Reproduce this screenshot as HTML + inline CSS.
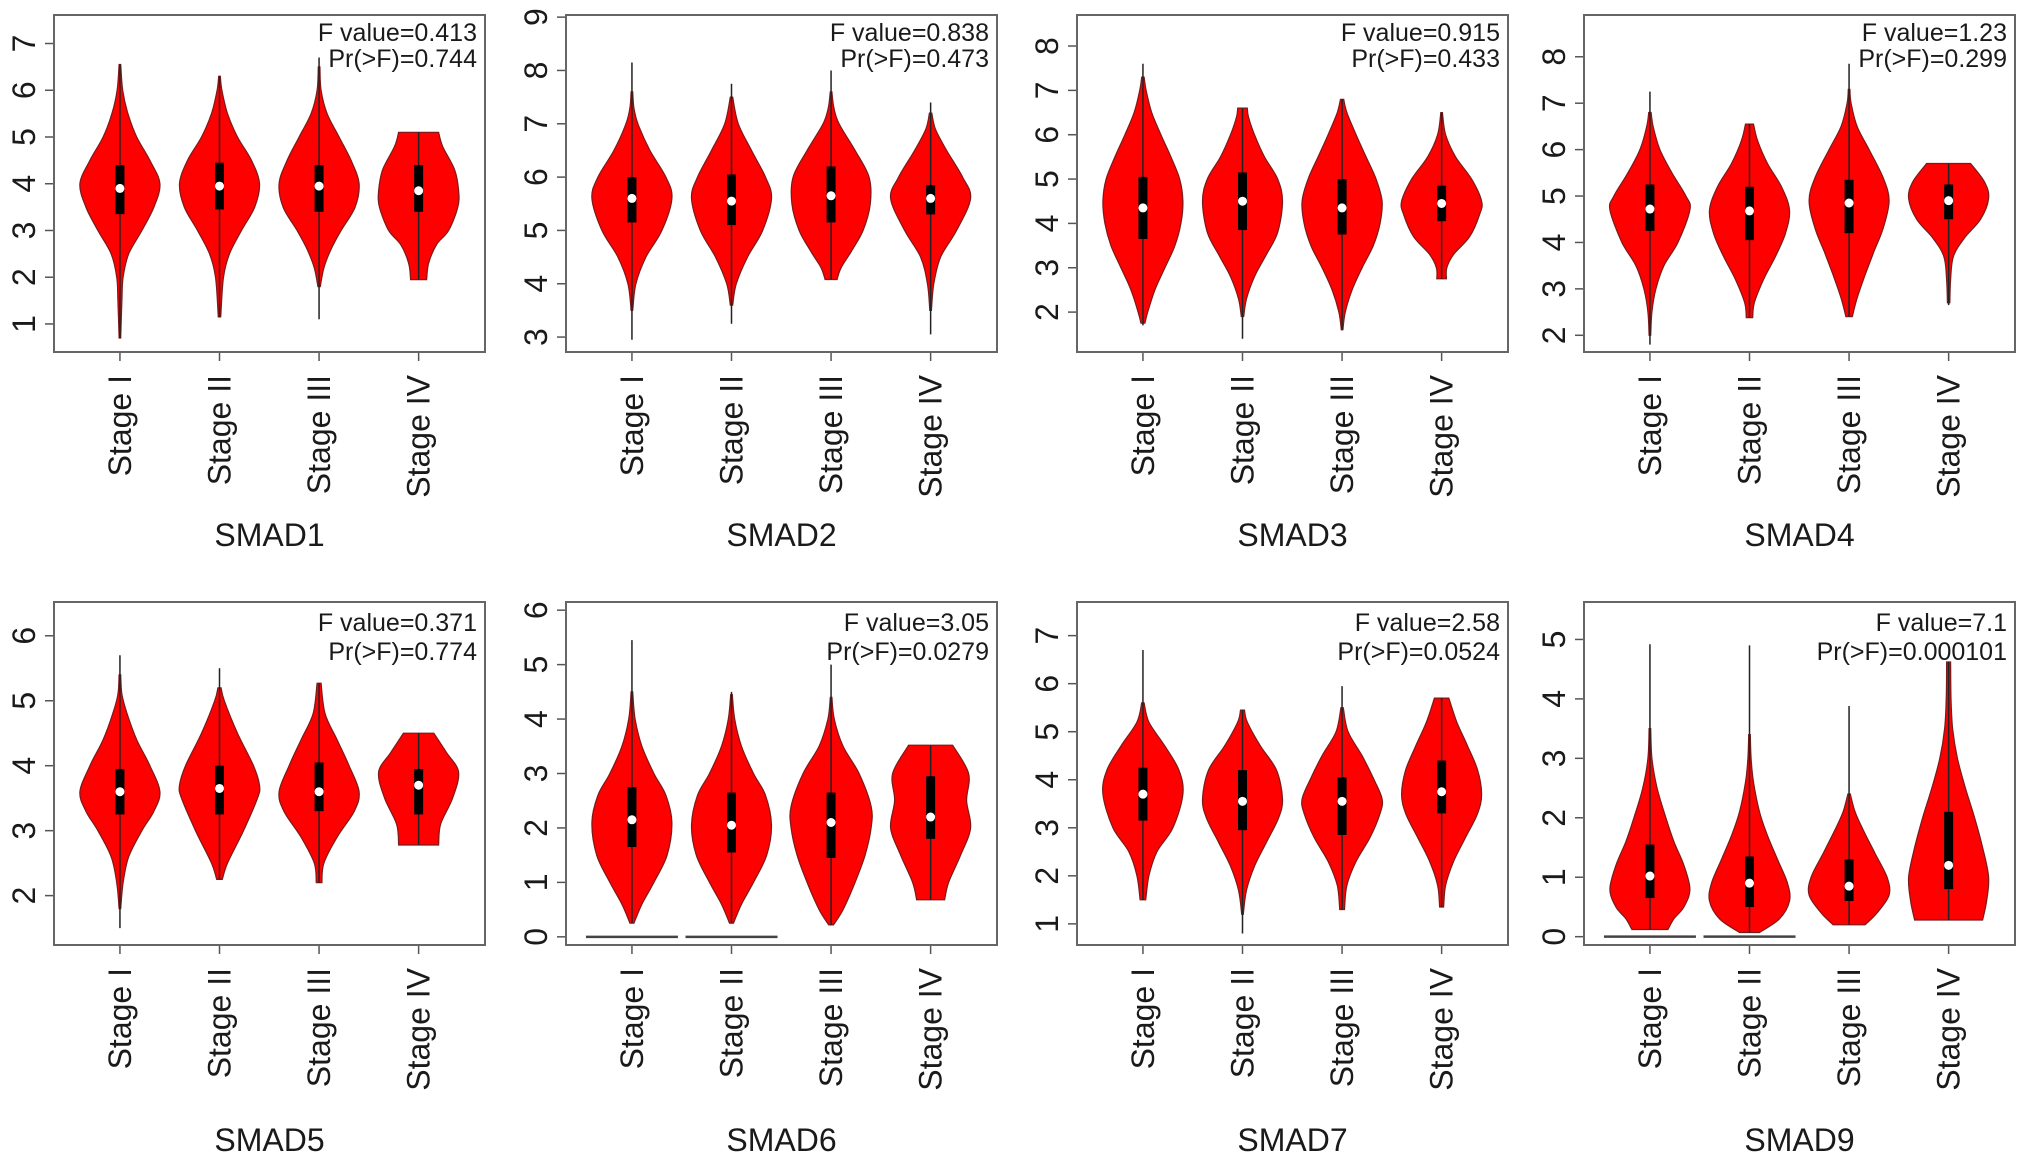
<!DOCTYPE html>
<html><head><meta charset="utf-8"><style>
html,body{margin:0;padding:0;background:#fff;}
svg{display:block;}
text{font-family:"Liberation Sans",Arial,sans-serif;fill:#1a1a1a;}
</style></head><body>
<svg id="chart" width="2032" height="1165" viewBox="0 0 2032 1165" xmlns="http://www.w3.org/2000/svg"></svg>
<script>
const genes = ["SMAD1","SMAD2","SMAD3","SMAD4","SMAD5","SMAD6","SMAD7","SMAD9"];
const stages = ["Stage I","Stage II","Stage III","Stage IV"];
const fValues = ["0.413","0.838","0.915","1.23","0.371","3.05","2.58","7.1"];
const pValues = ["0.744","0.473","0.433","0.299","0.774","0.0279","0.0524","0.000101"];
const yTicks = [[1,2,3,4,5,6,7],[3,4,5,6,7,8,9],[2,3,4,5,6,7,8],[2,3,4,5,6,7,8],[2,3,4,5,6],[0,1,2,3,4,5,6],[1,2,3,4,5,6,7],[0,1,2,3,4,5]];
const yDomains = [[0.40,7.61],[2.72,9.04],[1.1,8.7],[1.64,8.9],[1.24,6.52],[-0.15,6.15],[0.56,7.7],[-0.14,5.63]];
// whisker extents [lo, hi] per gene per stage
const whiskers = [
 [[0.7,6.55],[1.15,6.3],[1.1,6.7],[1.95,5.1]],
 [[2.95,8.15],[3.25,7.75],[4.08,8.0],[3.05,7.4]],
 [[1.7,7.6],[1.4,6.6],[1.6,6.8],[2.75,6.5]],
 [[1.8,7.25],[2.38,6.55],[2.4,7.85],[2.65,5.7]],
 [[1.5,5.7],[2.25,5.5],[2.2,5.27],[2.78,4.5]],
 [[0.25,5.45],[0.25,4.5],[0.22,5.0],[0.68,3.52]],
 [[1.5,6.7],[0.8,5.45],[1.3,5.95],[1.35,5.7]],
 [[0.12,4.92],[0.07,4.9],[0.2,3.88],[0.28,4.62]]
];
// quartiles [q1, median, q3]
const quartiles = [
 [[3.35,3.9,4.4],[3.45,3.95,4.45],[3.4,3.95,4.4],[3.4,3.85,4.4]],
 [[5.15,5.6,6.0],[5.1,5.55,6.05],[5.15,5.65,6.2],[5.3,5.6,5.85]],
 [[3.65,4.35,5.05],[3.85,4.5,5.15],[3.75,4.35,5.0],[4.05,4.45,4.85]],
 [[4.25,4.72,5.25],[4.05,4.68,5.2],[4.2,4.85,5.35],[4.5,4.9,5.25]],
 [[3.25,3.6,3.95],[3.25,3.65,4.0],[3.3,3.6,4.05],[3.25,3.7,3.95]],
 [[1.65,2.15,2.75],[1.55,2.05,2.65],[1.45,2.1,2.65],[1.8,2.2,2.95]],
 [[3.15,3.7,4.25],[2.95,3.55,4.2],[2.85,3.55,4.05],[3.3,3.75,4.4]],
 [[0.65,1.02,1.55],[0.5,0.9,1.35],[0.6,0.85,1.3],[0.8,1.2,2.1]]
];
// density knot values and relative widths
const densVals = [
 [[0.7,1.5,2,2.5,3,3.5,4,4.5,5,5.5,6,6.55],[1.15,2,2.5,3,3.5,4,4.5,5,5.5,6,6.3],[1.8,2.2,2.6,3,3.5,4,4.5,5,5.5,6,6.5],[1.95,2.3,2.7,3,3.5,3.85,4.3,4.8,5.1]],
 [[3.5,4,4.5,5,5.6,6,6.5,7,7.3,7.6],[3.6,4,4.5,5,5.6,6,6.5,7,7.5],[4.08,4.3,4.6,5,5.5,6,6.5,7,7.3,7.6],[3.5,4,4.5,5,5.6,6,6.5,6.9,7.2]],
 [[1.75,2,2.5,3,3.5,4,4.5,5,5.5,6,6.5,7,7.3],[1.9,2.3,2.8,3.3,3.8,4.5,5,5.5,6,6.4,6.6],[1.6,2,2.5,3,3.5,4,4.5,5,5.5,6,6.5,6.8],[2.75,3,3.3,3.7,4.2,4.5,5,5.5,6,6.5]],
 [[2,2.5,3,3.5,4,4.7,5,5.5,6,6.5,6.8],[2.38,2.7,3.2,3.7,4.2,4.7,5.2,5.7,6.2,6.55],[2.4,2.8,3.3,3.8,4.3,4.9,5.4,6,6.5,7,7.3],[2.7,3.2,3.7,4.1,4.5,4.95,5.3,5.7]],
 [[1.8,2.2,2.6,3,3.3,3.6,4,4.4,4.8,5.1,5.4],[2.25,2.5,3,3.5,3.7,4,4.5,5,5.2],[2.2,2.5,2.9,3.3,3.6,4,4.4,4.8,5.27],[2.78,3.1,3.5,3.9,4.2,4.5]],
 [[0.25,0.6,1,1.5,2.1,2.6,3,3.5,4,4.5],[0.25,0.6,1,1.5,2.05,2.6,3,3.5,4,4.45],[0.22,0.5,1,1.5,2,2.4,3,3.5,4,4.4],[0.68,1,1.5,2,2.5,3,3.52]],
 [[1.5,2,2.5,3,3.7,4.2,4.7,5.2,5.6],[1.2,1.7,2.2,2.7,3.2,3.6,4.2,4.7,5.2,5.45],[1.3,1.8,2.3,2.8,3.3,3.6,4,4.5,5,5.5],[1.35,1.8,2.3,2.8,3.3,3.7,4.2,4.7,5.2,5.7]],
 [[0.12,0.3,0.5,0.8,1.2,1.6,2,2.5,3,3.5],[0.07,0.3,0.6,0.9,1.3,1.7,2.1,2.6,3,3.4],[0.2,0.4,0.7,1,1.4,1.8,2.1,2.4],[0.28,0.6,1,1.5,2,2.5,3,3.5,4,4.62]]
];
const densWidths = [
 [[0.02,0.05,0.08,0.22,0.55,0.85,1.0,0.75,0.42,0.2,0.07,0.02],[0.03,0.1,0.25,0.55,0.88,1.0,0.8,0.45,0.2,0.06,0.02],[0.03,0.12,0.3,0.55,0.9,1.0,0.8,0.5,0.2,0.05,0.02],[0.2,0.25,0.45,0.75,0.98,1.0,0.9,0.6,0.5]],
 [[0.02,0.1,0.35,0.75,1.0,0.85,0.45,0.15,0.05,0.02],[0.03,0.12,0.4,0.78,1.0,0.85,0.5,0.17,0.03],[0.15,0.25,0.5,0.8,0.98,0.95,0.6,0.2,0.07,0.02],[0.02,0.08,0.25,0.65,1.0,0.8,0.4,0.12,0.03]],
 [[0.05,0.12,0.3,0.55,0.8,0.95,1.0,0.92,0.7,0.45,0.22,0.08,0.03],[0.03,0.1,0.3,0.6,0.88,1.0,0.88,0.55,0.3,0.15,0.12],[0.02,0.08,0.25,0.5,0.78,0.95,1.0,0.85,0.6,0.35,0.12,0.04],[0.12,0.13,0.3,0.7,0.95,1.0,0.75,0.35,0.1,0.02]],
 [[0.02,0.05,0.15,0.35,0.7,1.0,0.9,0.55,0.25,0.08,0.03],[0.08,0.12,0.35,0.65,0.9,1.0,0.8,0.45,0.2,0.1],[0.08,0.2,0.4,0.62,0.85,1.0,0.85,0.5,0.2,0.05,0.02],[0.03,0.05,0.12,0.4,0.8,1.0,0.9,0.55]],
 [[0.02,0.08,0.22,0.55,0.85,1.0,0.75,0.42,0.18,0.05,0.02],[0.07,0.2,0.6,0.95,1.0,0.85,0.45,0.12,0.04],[0.07,0.12,0.45,0.88,1.0,0.75,0.45,0.15,0.05],[0.5,0.55,0.85,1.0,0.7,0.38]],
 [[0.05,0.25,0.55,0.88,1.0,0.85,0.55,0.25,0.08,0.02],[0.05,0.25,0.55,0.88,1.0,0.85,0.55,0.25,0.08,0.02],[0.06,0.3,0.6,0.85,1.0,1.0,0.7,0.3,0.08,0.02],[0.35,0.45,0.75,1.0,0.9,0.95,0.55]],
 [[0.07,0.15,0.35,0.75,1.0,0.9,0.55,0.15,0.03],[0.02,0.1,0.3,0.6,0.9,1.0,0.85,0.45,0.12,0.05],[0.06,0.12,0.35,0.7,0.95,1.0,0.8,0.5,0.15,0.03],[0.05,0.1,0.3,0.6,0.9,1.0,0.9,0.65,0.38,0.18]],
 [[0.45,0.6,0.85,1.0,0.85,0.6,0.4,0.18,0.05,0.02],[0.25,0.75,1.0,0.95,0.7,0.45,0.25,0.1,0.04,0.02],[0.4,0.7,1.0,0.95,0.65,0.35,0.15,0.03],[0.85,0.95,1.0,0.85,0.65,0.42,0.22,0.1,0.06,0.05]]
];
// stages with a flat zero-value line
const zeroLines = [[],[],[],[],[],[0,1],[],[0,1]];

const NS = "http://www.w3.org/2000/svg";
const svg = document.getElementById("chart");
const colLeft = [54,566,1077,1584];
const boxW = 431;
const rowTop = [15,602];
const rowH = [337,343];
const halfW = 40;
function mk(tag, attrs, parent){
  const e = document.createElementNS(NS, tag);
  for (const k in attrs) e.setAttribute(k, attrs[k]);
  (parent||svg).appendChild(e);
  return e;
}
function smoothPath(pts){
  let d = "";
  for (let i=0;i<pts.length-1;i++){
    const p0 = pts[Math.max(0,i-1)], p1 = pts[i], p2 = pts[i+1], p3 = pts[Math.min(pts.length-1,i+2)];
    const c1 = [p1[0]+(p2[0]-p0[0])/6, p1[1]+(p2[1]-p0[1])/6];
    const c2 = [p2[0]-(p3[0]-p1[0])/6, p2[1]-(p3[1]-p1[1])/6];
    d += " C"+c1[0].toFixed(1)+","+c1[1].toFixed(1)+" "+c2[0].toFixed(1)+","+c2[1].toFixed(1)+" "+p2[0].toFixed(1)+","+p2[1].toFixed(1);
  }
  return d;
}
genes.forEach((gene, g) => {
  const r = Math.floor(g/4), c = g%4;
  const L = colLeft[c], T = rowTop[r], H = rowH[r], B = T+H, R = L+boxW;
  const dom = yDomains[g];
  const y = v => B - (v-dom[0])/(dom[1]-dom[0])*H;
  const x = i => L + boxW*(0.153 + 0.231*i);
  const panel = mk("g", {});
  
  
  // y ticks
  yTicks[g].forEach(t => {
    const tk = mk("line", {x1:L-9, x2:L, y1:y(t), y2:y(t), stroke:"#555", "stroke-width":1.5}, panel);
    
    
    const tl = mk("text", {x:L-19, y:y(t), transform:"rotate(-90 "+(L-19)+" "+y(t)+")", "text-anchor":"middle", "font-size":32}, panel);
    tl.textContent = t;
    
    
  });
  // violins
  stages.forEach((s, i) => {
    const cx = x(i);
    const vg = mk("g", {}, panel);
    
    
    if (zeroLines[g].includes(i)) {
      const zl = mk("line", {x1:cx-46, x2:cx+46, y1:y(0), y2:y(0), stroke:"#444", "stroke-width":2.5}, vg);
      
      
    }
    const vals = densVals[g][i], ws = densWidths[g][i];
    const right = vals.map((v,k) => [cx + ws[k]*halfW, y(v)]);
    const left = vals.map((v,k) => [cx - ws[k]*halfW, y(v)]).reverse();
    let d = "M"+right[0][0].toFixed(1)+","+right[0][1].toFixed(1) + smoothPath(right);
    d += " L"+left[0][0].toFixed(1)+","+left[0][1].toFixed(1) + smoothPath(left) + " Z";
    const body = mk("path", {d:d, fill:"#ff0000", stroke:"#7a1a1a", "stroke-width":1.2}, vg);
    
    
    const wl = mk("line", {x1:cx, x2:cx, y1:y(whiskers[g][i][0]), y2:y(whiskers[g][i][1]), stroke:"#222", "stroke-width":1.5}, vg);
    
    
    const q = quartiles[g][i];
    const bx = mk("rect", {x:cx-4.5, y:y(q[2]), width:9, height:y(q[0])-y(q[2]), fill:"#000"}, vg);
    
    
    const md = mk("circle", {cx:cx, cy:y(q[1]), r:4.5, fill:"#fff"}, vg);
    
    
    // x tick + label
    const xt = mk("line", {x1:cx, x2:cx, y1:B, y2:B+9, stroke:"#555", "stroke-width":1.5}, panel);
    
    
    const lx = cx+11, ly = B+23;
    const xl = mk("text", {x:lx, y:ly, transform:"rotate(-90 "+lx+" "+ly+")", "text-anchor":"end", "font-size":32}, panel);
    xl.textContent = s;
    
    
  });
  // frame
  const fr = mk("rect", {x:L, y:T, width:boxW, height:H, fill:"none", stroke:"#666", "stroke-width":2}, panel);
  
  
  // stats
  const t1 = mk("text", {x:R-8, y:T+(r?29:26), "text-anchor":"end", "font-size":25}, panel);
  t1.textContent = "F value=" + fValues[g];
  
  
  const t2 = mk("text", {x:R-8, y:T+(r?58:52), "text-anchor":"end", "font-size":25}, panel);
  t2.textContent = "Pr(>F)=" + pValues[g];
  
  
  // gene title
  const tt = mk("text", {x:L+boxW/2, y:r?1151:546, "text-anchor":"middle", "font-size":32}, panel);
  tt.textContent = gene;
  
  
});
</script>
</body></html>
